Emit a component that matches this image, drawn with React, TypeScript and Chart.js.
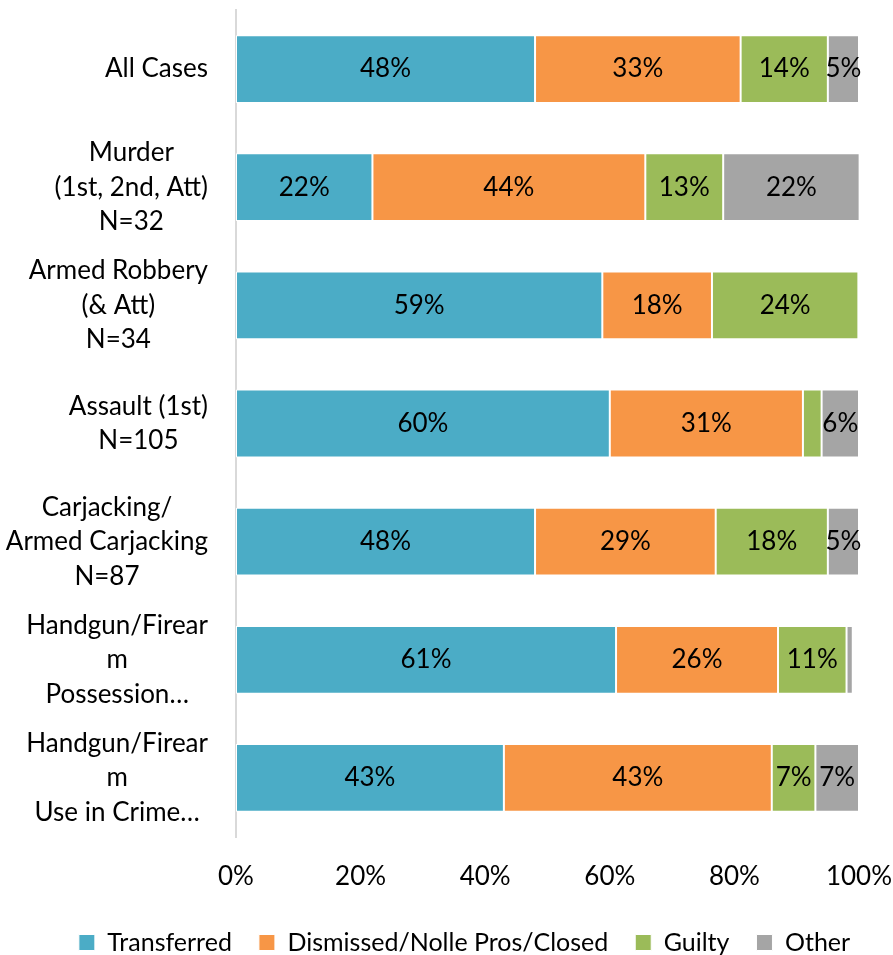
import React, { useEffect, useRef } from "react";
import { Chart, registerables } from "chart.js";

Chart.register(...registerables);

const categories = [
  "All Cases",
  "Murder (1st, 2nd, Att) N=32",
  "Armed Robbery (& Att) N=34",
  "Assault (1st) N=105",
  "Carjacking/ Armed Carjacking N=87",
  "Handgun/Firearm Possession…",
  "Handgun/Firearm Use in Crime…",
];
const categoryLines = [
  ["All Cases"],
  ["Murder", "(1st, 2nd, Att)", "N=32"],
  ["Armed Robbery", "(& Att)", "N=34"],
  ["Assault (1st)", "N=105"],
  ["Carjacking/", "Armed Carjacking", "N=87"],
  ["Handgun/Firear", "m", "Possession…"],
  ["Handgun/Firear", "m", "Use in Crime…"],
];
const seriesNames = ["Transferred", "Dismissed/Nolle Pros/Closed", "Guilty", "Other"];
const seriesColors = ["#4BACC6", "#F79646", "#9BBB59", "#A5A5A5"];
const transferred = [48, 21.9, 58.8, 60, 48, 61, 43];
const dismissed = [33, 43.8, 17.6, 31, 29, 26, 43];
const guilty = [14, 12.5, 23.5, 3, 18, 11, 7];
const other = [5, 21.9, 0, 6, 5, 1, 7];
const xTicks = [0, 20, 40, 60, 80, 100];

const FONT = "Lato, 'Open Sans', sans-serif";
const FS = 26;

const labelPlugin = {
  id: "segLabels",
  afterLayout(chart: any) {
    const lg = chart.legend;
    if (lg) {
      lg.left += 35;
      lg.right += 35;
    }
  },
  afterDatasetsDraw(chart: any) {
    const ctx = chart.ctx;
    ctx.save();
    ctx.font = `${FS}px ${FONT}`;
    ctx.fillStyle = "#000";
    ctx.textAlign = "center";
    ctx.textBaseline = "middle";
    chart.data.datasets.forEach((ds: any, di: number) => {
      const meta = chart.getDatasetMeta(di);
      meta.data.forEach((el: any, i: number) => {
        const v = ds.data[i];
        if (v < 4) return;
        const props = el.getProps(["x", "y", "base"], true);
        const cx = (props.x + props.base) / 2;
        ctx.fillText(Math.round(v) + "%", cx, props.y);
      });
    });
    // y-axis category labels: block right-aligned, lines centred within block
    const yScale = chart.scales.y;
    const rightEdge = chart.chartArea.left - 28;
    const lh = 34.5;
    categoryLines.forEach((lines, i) => {
      const cy = yScale.getPixelForTick(i);
      let maxW = 0;
      lines.forEach((l) => (maxW = Math.max(maxW, ctx.measureText(l).width)));
      const cx = rightEdge - maxW / 2;
      const top = cy - ((lines.length - 1) * lh) / 2;
      lines.forEach((l, k) => ctx.fillText(l, cx, top + k * lh));
    });
    ctx.restore();
  },
};

export default function App() {
  const ref = useRef<HTMLCanvasElement>(null);
  useEffect(() => {
    const series = [transferred, dismissed, guilty, other];
    const chart = new Chart(ref.current!, {
      type: "bar",
      data: {
        labels: categories,
        datasets: series.map((d, i) => ({
          label: seriesNames[i],
          data: d,
          backgroundColor: seriesColors[i],
          borderColor: "#ffffff",
          borderWidth: 1,
          borderSkipped: false,
          categoryPercentage: 1,
          barPercentage: 0.574,
        })),
      },
      options: {
        indexAxis: "y",
        animation: false,
        responsive: false,
        maintainAspectRatio: false,
        layout: { padding: { left: 0, right: 34, top: 10, bottom: -10 } },
        scales: {
          x: {
            stacked: true,
            min: 0,
            max: 100,
            afterBuildTicks: (s: any) => {
              s.ticks = xTicks.map((v) => ({ value: v }));
            },
            afterFit: (s: any) => {
              s.height = 66;
              s.paddingLeft = 0;
              s.paddingRight = 0;
            },
            grid: { display: false },
            border: { display: false },
            ticks: {
              padding: 16,
              color: "#000",
              font: { family: FONT, size: FS },
              callback: (v: any) => v + "%",
              maxRotation: 0,
            },
          },
          y: {
            stacked: true,
            grid: { display: false },
            border: { display: true, color: "#d9d9d9", width: 2 },
            ticks: { display: false },
            afterFit: (s: any) => {
              s.width = 236;
              s.paddingTop = 0;
              s.paddingBottom = 0;
            },
          },
        },
        plugins: {
          legend: {
            position: "bottom",
            labels: {
              color: "#000",
              font: { family: FONT, size: 25 },
              boxWidth: 16,
              boxHeight: 16,
              padding: 27,
            },
          },
          tooltip: { enabled: false },
        },
      },
      plugins: [labelPlugin],
    });
    return () => chart.destroy();
  }, []);
  return (
    <div style={{ position: "absolute", left: 0, top: 0, width: 893, height: 955 }}>
      <canvas ref={ref} width={893} height={955} style={{ width: 893, height: 955 }} />
    </div>
  );
}
